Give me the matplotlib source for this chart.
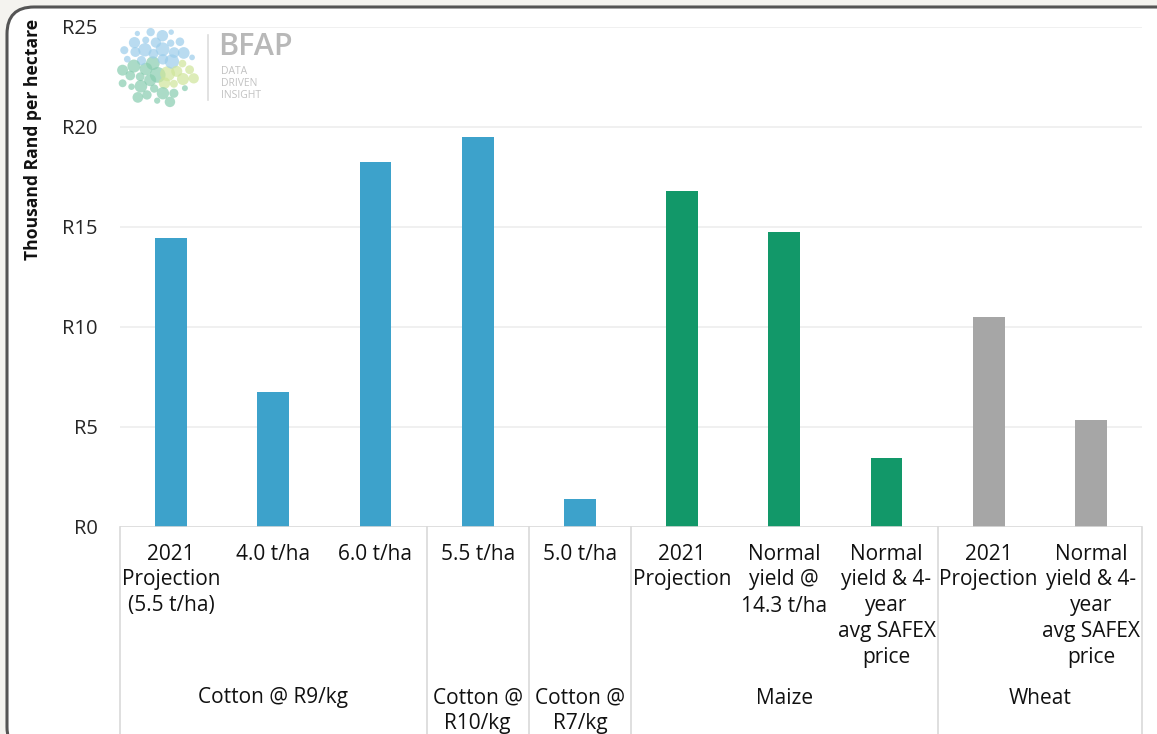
import matplotlib
matplotlib.use("Agg")
import matplotlib.pyplot as plt
from matplotlib.patches import FancyBboxPatch, Circle
from matplotlib.lines import Line2D
import matplotlib.transforms as mtrans
import numpy as np

plt.rcParams['font.family'] = ['Open Sans', 'DejaVu Sans']

# ---------------- data ----------------
categories = ["2021\nProjection\n(5.5 t/ha)", "4.0 t/ha", "6.0 t/ha", "5.5 t/ha", "5.0 t/ha",
              "2021\nProjection", "Normal\nyield @\n14.3 t/ha",
              "Normal\nyield & 4-\nyear\navg SAFEX\nprice",
              "2021\nProjection", "Normal\nyield & 4-\nyear\navg SAFEX\nprice"]
values = [14.45, 6.75, 18.25, 19.5, 1.4, 16.8, 14.75, 3.45, 10.5, 5.35]
groups = ["Cotton @ R9/kg", "Cotton @\nR10/kg", "Cotton @\nR7/kg", "Maize", "Wheat"]
group_sizes = [3, 1, 1, 3, 2]
group_colors = ["#3DA2CB", "#3DA2CB", "#3DA2CB", "#129869", "#A6A6A6"]
yticks = [0, 5, 10, 15, 20, 25]
ytick_labels = ["R0", "R5", "R10", "R15", "R20", "R25"]
ylabel = "Thousand Rand per hectare"

W, H = 1157, 734
fig = plt.figure(figsize=(W / 100, H / 100), dpi=100, facecolor="#F4F3EF")

# frame
frame = FancyBboxPatch((0.07, -0.2), 12.5, 7.47, boxstyle="round,pad=0,rounding_size=0.27",
                       transform=fig.dpi_scale_trans, facecolor="white", edgecolor="#555555",
                       linewidth=2.2, zorder=-10)
fig.patches.append(frame)

ax = fig.add_axes([120 / W, 207 / H, 1022 / W, 500 / H])
ax.set_facecolor("none")
x = np.arange(len(values))
bar_colors = []
for c, n in zip(group_colors, group_sizes):
    bar_colors += [c] * n
ax.bar(x, values, width=0.31, color=bar_colors, zorder=3)
ax.set_xlim(-0.5, len(values) - 0.5)
ax.set_ylim(0, 25)
for s in ax.spines.values():
    s.set_visible(False)
ax.set_yticks(yticks)
ax.set_yticklabels(ytick_labels)
ax.tick_params(axis="y", length=0, pad=16, labelsize=14.5, labelcolor="#262626")
ax.set_xticks([])
for t in yticks[1:]:
    ax.axhline(t, color="#EDEDED", lw=1.2, zorder=1)
ax.axhline(0, color="#D9D9D9", lw=1.2, zorder=4)

FS = 15
# category labels
for i, lab in enumerate(categories):
    for j, line in enumerate(lab.split("\n")):
        tr = mtrans.offset_copy(ax.transData, fig=fig, x=0, y=-(27 + 26 * j), units="dots")
        ax.text(i, 0, line, transform=tr, ha="center", va="center", fontsize=FS,
                color="#111111", clip_on=False)

# group labels and separators
start = 0
bounds = [-0.5]
for g, n in zip(groups, group_sizes):
    mid = start + (n - 1) / 2
    for j, line in enumerate(g.split("\n")):
        tr = mtrans.offset_copy(ax.transData, fig=fig, x=0, y=-(171 + 26 * j), units="dots")
        ax.text(mid, 0, line, transform=tr, ha="center", va="center", fontsize=FS,
                color="#111111", clip_on=False)
    start += n
    bounds.append(start - 0.5)
for b in bounds:
    ax.plot([b, b], [0, -0.5], transform=ax.get_xaxis_transform(), color="#D9D9D9",
            lw=1.2, clip_on=False, zorder=2)

# y label
fig.text(33 / W, 1 - 139 / H, ylabel, rotation=90, fontsize=12.6, fontweight="bold",
         ha="center", va="center", color="#111111")

# logo (decoration)
lax = fig.add_axes([112 / W, (H - 112) / H, 90 / W, 90 / H])
lax.set_xlim(-1.1, 1.1)
lax.set_ylim(-1.1, 1.1)
lax.set_aspect("equal")
lax.axis("off")
n = 48
for k in range(1, n + 1):
    r = np.sqrt(k / n) * 0.95
    th = k * 2.39996
    px, py = r * np.cos(th), r * np.sin(th)
    if py > 0.1:
        col = "#9CCDEB"
    elif px > 0.15 and py > -0.45:
        col = "#CFE59A"
    else:
        col = "#88CDB0"
    size = 0.06 + 0.09 * (1 - r) + 0.03 * ((k * 7) % 3)
    lax.add_patch(Circle((px, py), size, color=col, alpha=0.7, lw=0))
fig.add_artist(Line2D([208 / W, 208 / W], [1 - 35 / H, 1 - 100 / H], color="#DDDDDD", lw=1.2))
fig.text(218 / W, 1 - 47 / H, "BFAP", fontsize=22, fontweight="semibold", color="#B8B8B8",
         ha="left", va="center")
for j, w in enumerate(["DATA", "DRIVEN", "INSIGHT"]):
    fig.text(221 / W, 1 - (71 + 12 * j) / H, w, fontsize=7.5, color="#C2C2C2", ha="left", va="center")

fig.savefig("out.png", dpi=100, facecolor=fig.get_facecolor())
